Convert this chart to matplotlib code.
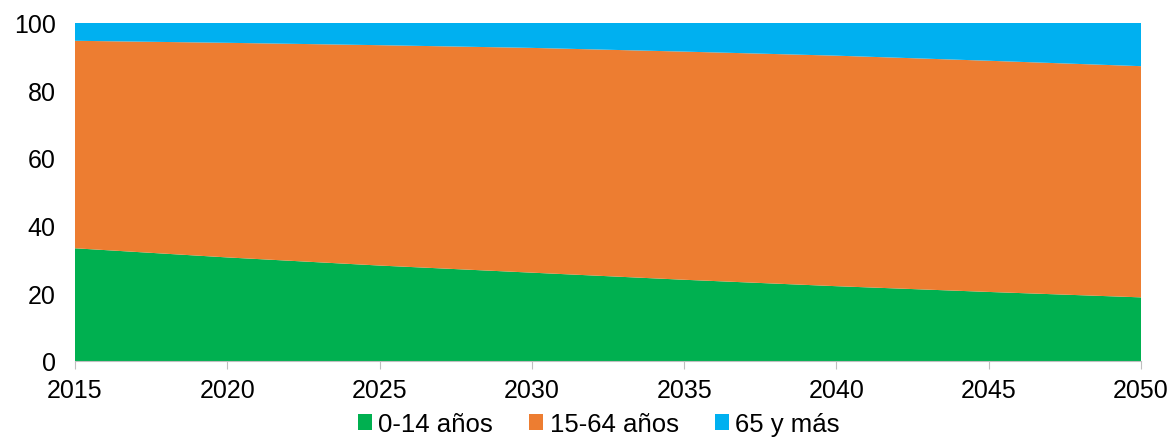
import matplotlib.pyplot as plt
import numpy as np

# ----------------------------------------------------------------------
# Data (percent of population by age group)
# ----------------------------------------------------------------------
years = [2015, 2020, 2025, 2030, 2035, 2040, 2045, 2050]
young = [33.3, 30.6, 28.2, 26.1, 24.0, 22.1, 20.4, 18.8]          # 0-14
working = [61.3, 63.4, 65.1, 66.4, 67.4, 68.1, 68.3, 68.3]        # 15-64
old = [5.4, 6.0, 6.7, 7.5, 8.6, 9.8, 11.3, 12.9]                  # 65+
labels = ["0-14 años", "15-64 años", "65 y más"]
colors = ["#00B050", "#ED7D31", "#00B0F0"]

plt.rcParams["font.family"] = ["Liberation Sans", "DejaVu Sans"]

fig = plt.figure(figsize=(11.74, 4.39), dpi=100)
ax = fig.add_axes([75 / 1174, 1 - 362 / 439, (1141 - 75) / 1174, (362 - 23.5) / 439])

ax.stackplot(years, young, working, old, colors=colors, labels=labels,
             linewidth=0)

ax.set_xlim(2015, 2050)
ax.set_ylim(0, 100)
ax.set_xticks(years)
ax.set_yticks(np.arange(0, 101, 20))
ax.tick_params(axis="both", labelsize=18, colors="black")
ax.tick_params(axis="y", length=0, pad=14)
ax.tick_params(axis="x", length=6, color="#BFBFBF", pad=6)

for side in ["top", "right", "left"]:
    ax.spines[side].set_visible(False)
ax.spines["bottom"].set_color("#BFBFBF")

leg = fig.legend(loc="center", bbox_to_anchor=(0.51, 1 - 425 / 439), ncol=3,
                 frameon=False, fontsize=18.5, handlelength=0.55, handleheight=0.55,
                 handletextpad=0.25, columnspacing=1.4, borderaxespad=0)

fig.savefig("out.png", dpi=100)
